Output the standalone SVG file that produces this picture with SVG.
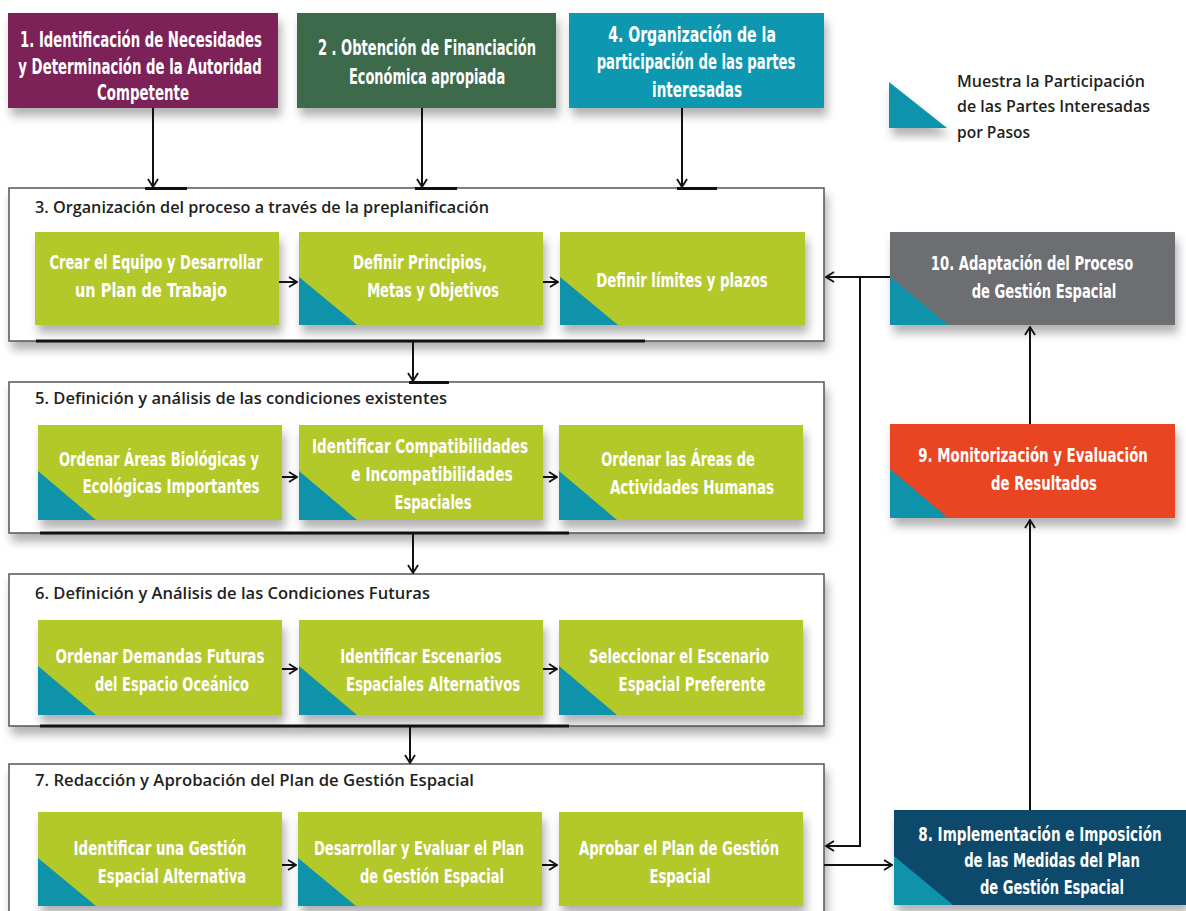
<svg xmlns="http://www.w3.org/2000/svg" width="1186" height="911" viewBox="0 0 1186 911">
<defs>
<filter id="sh" x="-10%" y="-10%" width="125%" height="140%">
<feDropShadow dx="3" dy="8" stdDeviation="5" flood-color="#000" flood-opacity="0.3"/>
</filter>
<marker id="ah" viewBox="0 0 10 12" refX="9" refY="6" markerWidth="10" markerHeight="12" markerUnits="userSpaceOnUse" orient="auto">
<path d="M1,1 L9,6 L1,11" fill="none" stroke="#111" stroke-width="1.8"/>
</marker>
<style>
.box{filter:url(#sh)}
.cont{fill:#fff;stroke:#555;stroke-width:1.5;filter:url(#sh)}
.t{font-family:"Liberation Sans Narrow","DejaVu Sans Condensed","Liberation Sans",sans-serif;font-weight:bold;fill:#fff;text-anchor:middle}
.t21{font-size:21px}
.t20{font-size:20px}
.ttl{font-family:"Open Sans","Liberation Sans",sans-serif;font-weight:600;font-size:17px;fill:#231f20}
.tri{fill:#0e93ab}
.g{fill:#b3c92c}
.arr{fill:none;stroke:#111;stroke-width:2;marker-end:url(#ah)}
.bar{stroke:#111;stroke-width:3}
</style>
</defs>
<rect width="1186" height="911" fill="#fff"/>

<g id="step3">
<rect class="cont" x="9" y="188" width="815" height="153"/>
<text class="ttl" x="35" y="213" textLength="454" lengthAdjust="spacingAndGlyphs">3. Organización del proceso a través de la preplanificación</text>
</g>
<g id="step5">
<rect class="cont" x="9" y="382" width="815" height="151"/>
<text class="ttl" x="35" y="404" textLength="412" lengthAdjust="spacingAndGlyphs">5. Definición y análisis de las condiciones existentes</text>
</g>
<g id="step6">
<rect class="cont" x="9" y="574" width="815" height="152"/>
<text class="ttl" x="35" y="599" textLength="395" lengthAdjust="spacingAndGlyphs">6. Definición y Análisis de las Condiciones Futuras</text>
</g>
<g id="step7">
<rect class="cont" x="9" y="764" width="815" height="160"/>
<text class="ttl" x="35" y="786" textLength="439" lengthAdjust="spacingAndGlyphs">7. Redacción y Aprobación del Plan de Gestión Espacial</text>
</g>

<g id="step1">
<rect class="box" x="8" y="13" width="270" height="95" fill="#7b2359"/>
<text class="t t21" transform="matrix(0.72 0 0 1 141 47)" textLength="336" lengthAdjust="spacingAndGlyphs">1. Identificación de Necesidades</text>
<text class="t t21" transform="matrix(0.72 0 0 1 140 74)" textLength="338" lengthAdjust="spacingAndGlyphs">y Determinación de la Autoridad</text>
<text class="t t21" transform="matrix(0.72 0 0 1 143 100)" textLength="128" lengthAdjust="spacingAndGlyphs">Competente</text>
</g>
<g id="step2">
<rect class="box" x="297" y="13" width="259" height="95" fill="#3d6b4b"/>
<text class="t t21" transform="matrix(0.72 0 0 1 427 55)" textLength="303" lengthAdjust="spacingAndGlyphs">2 . Obtención de Financiación</text>
<text class="t t21" transform="matrix(0.72 0 0 1 427 84)" textLength="217" lengthAdjust="spacingAndGlyphs">Económica apropiada</text>
</g>
<g id="step4">
<rect class="box" x="569" y="13" width="255" height="95" fill="#0f97b0"/>
<text class="t t21" transform="matrix(0.72 0 0 1 692 42)" textLength="233" lengthAdjust="spacingAndGlyphs">4. Organización de la</text>
<text class="t t21" transform="matrix(0.72 0 0 1 696 69)" textLength="276" lengthAdjust="spacingAndGlyphs">participación de las partes</text>
<text class="t t21" transform="matrix(0.72 0 0 1 697 97)" textLength="125" lengthAdjust="spacingAndGlyphs">interesadas</text>
</g>

<g id="legend">
<polygon class="tri" points="889,82 889,128 947,128" style="filter:url(#sh)"/>
<text class="ttl" x="957" y="87" textLength="188" lengthAdjust="spacingAndGlyphs">Muestra la Participación</text>
<text class="ttl" x="957" y="112" textLength="193" lengthAdjust="spacingAndGlyphs">de las Partes Interesadas</text>
<text class="ttl" x="957" y="138" textLength="73" lengthAdjust="spacingAndGlyphs">por Pasos</text>
</g>

<g id="s3a">
<rect class="box g" x="35" y="232" width="244" height="93"/>
<text class="t t20" transform="matrix(0.72 0 0 1 156 269)" textLength="296" lengthAdjust="spacingAndGlyphs">Crear el Equipo y Desarrollar</text>
<text class="t t20" transform="matrix(0.72 0 0 1 151 297)" textLength="211" lengthAdjust="spacingAndGlyphs">un Plan de Trabajo</text>
</g>
<g id="s3b">
<rect class="box g" x="299" y="232" width="244" height="93"/>
<polygon class="tri" points="299,277 299,325 357,325"/>
<text class="t t20" transform="matrix(0.72 0 0 1 420 269)" textLength="186" lengthAdjust="spacingAndGlyphs">Definir Principios,</text>
<text class="t t20" transform="matrix(0.72 0 0 1 433 297)" textLength="183" lengthAdjust="spacingAndGlyphs">Metas y Objetivos</text>
</g>
<g id="s3c">
<rect class="box g" x="560" y="232" width="245" height="93"/>
<polygon class="tri" points="560,277 560,325 618,325"/>
<text class="t t20" transform="matrix(0.72 0 0 1 682 287)" textLength="238" lengthAdjust="spacingAndGlyphs">Definir límites y plazos</text>
</g>

<g id="s5a">
<rect class="box g" x="38" y="425" width="244" height="95"/>
<polygon class="tri" points="38,471 38,520 96,520"/>
<text class="t t20" transform="matrix(0.72 0 0 1 159 466)" textLength="278" lengthAdjust="spacingAndGlyphs">Ordenar Áreas Biológicas y</text>
<text class="t t20" transform="matrix(0.72 0 0 1 171 493)" textLength="246" lengthAdjust="spacingAndGlyphs">Ecológicas Importantes</text>
</g>
<g id="s5b">
<rect class="box g" x="299" y="425" width="244" height="95"/>
<polygon class="tri" points="299,471 299,520 357,520"/>
<text class="t t20" transform="matrix(0.72 0 0 1 420 453)" textLength="300" lengthAdjust="spacingAndGlyphs">Identificar Compatibilidades</text>
<text class="t t20" transform="matrix(0.72 0 0 1 432 481)" textLength="224" lengthAdjust="spacingAndGlyphs">e Incompatibilidades</text>
<text class="t t20" transform="matrix(0.72 0 0 1 433 509)" textLength="107" lengthAdjust="spacingAndGlyphs">Espaciales</text>
</g>
<g id="s5c">
<rect class="box g" x="559" y="425" width="244" height="95"/>
<polygon class="tri" points="559,471 559,520 617,520"/>
<text class="t t20" transform="matrix(0.72 0 0 1 678 466)" textLength="213" lengthAdjust="spacingAndGlyphs">Ordenar las Áreas de</text>
<text class="t t20" transform="matrix(0.72 0 0 1 692 494)" textLength="228" lengthAdjust="spacingAndGlyphs">Actividades Humanas</text>
</g>

<g id="s6a">
<rect class="box g" x="38" y="620" width="244" height="95"/>
<polygon class="tri" points="38,666 38,715 96,715"/>
<text class="t t20" transform="matrix(0.72 0 0 1 160 663)" textLength="290" lengthAdjust="spacingAndGlyphs">Ordenar Demandas Futuras</text>
<text class="t t20" transform="matrix(0.72 0 0 1 172 691)" textLength="214" lengthAdjust="spacingAndGlyphs">del Espacio Oceánico</text>
</g>
<g id="s6b">
<rect class="box g" x="299" y="620" width="244" height="95"/>
<polygon class="tri" points="299,666 299,715 357,715"/>
<text class="t t20" transform="matrix(0.72 0 0 1 421 663)" textLength="224" lengthAdjust="spacingAndGlyphs">Identificar Escenarios</text>
<text class="t t20" transform="matrix(0.72 0 0 1 433 691)" textLength="242" lengthAdjust="spacingAndGlyphs">Espaciales Alternativos</text>
</g>
<g id="s6c">
<rect class="box g" x="559" y="620" width="244" height="95"/>
<polygon class="tri" points="559,666 559,715 617,715"/>
<text class="t t20" transform="matrix(0.72 0 0 1 679 663)" textLength="250" lengthAdjust="spacingAndGlyphs">Seleccionar el Escenario</text>
<text class="t t20" transform="matrix(0.72 0 0 1 692 691)" textLength="204" lengthAdjust="spacingAndGlyphs">Espacial Preferente</text>
</g>

<g id="s7a">
<rect class="box g" x="38" y="812" width="244" height="94"/>
<polygon class="tri" points="38,858 38,906 96,906"/>
<text class="t t20" transform="matrix(0.72 0 0 1 160 855)" textLength="240" lengthAdjust="spacingAndGlyphs">Identificar una Gestión</text>
<text class="t t20" transform="matrix(0.72 0 0 1 172 883)" textLength="206" lengthAdjust="spacingAndGlyphs">Espacial Alternativa</text>
</g>
<g id="s7b">
<rect class="box g" x="298" y="812" width="244" height="94"/>
<polygon class="tri" points="298,858 298,906 356,906"/>
<text class="t t20" transform="matrix(0.72 0 0 1 419 855)" textLength="292" lengthAdjust="spacingAndGlyphs">Desarrollar y Evaluar el Plan</text>
<text class="t t20" transform="matrix(0.72 0 0 1 432 883)" textLength="200" lengthAdjust="spacingAndGlyphs">de Gestión Espacial</text>
</g>
<g id="s7c">
<rect class="box g" x="559" y="812" width="244" height="94"/>
<text class="t t20" transform="matrix(0.72 0 0 1 679 855)" textLength="278" lengthAdjust="spacingAndGlyphs">Aprobar el Plan de Gestión</text>
<text class="t t20" transform="matrix(0.72 0 0 1 680 883)" textLength="85" lengthAdjust="spacingAndGlyphs">Espacial</text>
</g>

<g id="step10">
<rect class="box" x="890" y="232" width="285" height="93" fill="#6d6e71"/>
<polygon class="tri" points="890,277 890,325 948,325"/>
<text class="t t20" transform="matrix(0.72 0 0 1 1032 270)" textLength="281" lengthAdjust="spacingAndGlyphs">10. Adaptación del Proceso</text>
<text class="t t20" transform="matrix(0.72 0 0 1 1044 298)" textLength="201" lengthAdjust="spacingAndGlyphs">de Gestión Espacial</text>
</g>
<g id="step9">
<rect class="box" x="890" y="424" width="285" height="94" fill="#e94524"/>
<polygon class="tri" points="890,469 890,518 948,518"/>
<text class="t t20" transform="matrix(0.72 0 0 1 1033 462)" textLength="319" lengthAdjust="spacingAndGlyphs">9. Monitorización y Evaluación</text>
<text class="t t20" transform="matrix(0.72 0 0 1 1044 490)" textLength="147" lengthAdjust="spacingAndGlyphs">de Resultados</text>
</g>
<g id="step8">
<rect class="box" x="894" y="810" width="292" height="95" fill="#0d4a6b"/>
<polygon class="tri" points="894,856 894,905 953,905"/>
<text class="t t20" transform="matrix(0.72 0 0 1 1040 841)" textLength="338" lengthAdjust="spacingAndGlyphs">8. Implementación e Imposición</text>
<text class="t t20" transform="matrix(0.72 0 0 1 1052 867)" textLength="244" lengthAdjust="spacingAndGlyphs">de las Medidas del Plan</text>
<text class="t t20" transform="matrix(0.72 0 0 1 1052 894)" textLength="200" lengthAdjust="spacingAndGlyphs">de Gestión Espacial</text>
</g>

<g id="connectors">
<path class="arr" d="M153,108 V187"/>
<path class="arr" d="M422,108 V187"/>
<path class="arr" d="M682,108 V187"/>
<line class="bar" x1="145" y1="188.5" x2="187" y2="188.5"/>
<line class="bar" x1="415" y1="188.5" x2="457" y2="188.5"/>
<line class="bar" x1="677" y1="188.5" x2="717" y2="188.5"/>
<line class="bar" x1="36" y1="341" x2="645" y2="341"/>
<line class="bar" x1="409" y1="382.5" x2="449" y2="382.5"/>
<line class="bar" x1="40" y1="533" x2="569" y2="533"/>
<line class="bar" x1="40" y1="726" x2="569" y2="726"/>
<path class="arr" d="M413,341 V381"/>
<path class="arr" d="M413,533 V573"/>
<path class="arr" d="M410,726 V763"/>
<path class="arr" d="M279,282 H297"/>
<path class="arr" d="M543,282 H558"/>
<path class="arr" d="M282,477 H297"/>
<path class="arr" d="M543,477 H557"/>
<path class="arr" d="M282,669 H297"/>
<path class="arr" d="M543,669 H557"/>
<path class="arr" d="M282,865 H296"/>
<path class="arr" d="M542,865 H557"/>
<path class="arr" d="M890,277 H826"/>
<path class="arr" d="M860,277 V846 H826"/>
<path class="arr" d="M824,865 H892"/>
<path class="arr" d="M1030,810 V520"/>
<path class="arr" d="M1030,424 V327"/>
</g>
</svg>
